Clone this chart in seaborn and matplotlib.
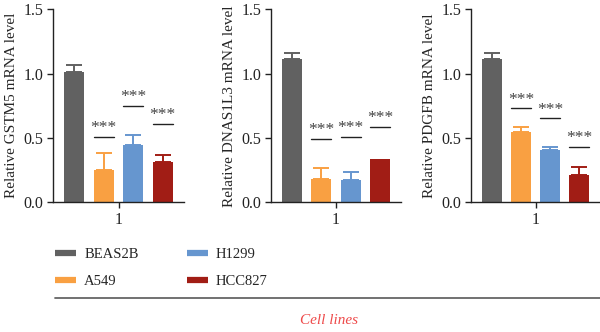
import pandas as pd
import matplotlib
matplotlib.use("Agg")
import matplotlib.pyplot as plt
from matplotlib.lines import Line2D
import seaborn as sns

sns.set_theme(style="ticks")
plt.rcParams["font.family"] = ["Liberation Serif", "DejaVu Serif"]

cells = ["BEAS2B", "A549", "H1299", "HCC827"]
colors = ["#616161", "#F9A042", "#6696CF", "#A11D15"]
genes = ["GSTM5", "DNAS1L3", "PDGFB"]
ylabels = ["Relative GSTM5 mRNA level", "Relative DNAS1L3 mRNA level",
           "Relative PDGFB mRNA level"]

# means and upper error (SD) per gene, in cell order
gstm5_mean = [1.01, 0.25, 0.443, 0.31]
gstm5_err = [0.06, 0.13, 0.077, 0.06]
dnas1l3_mean = [1.117, 0.18, 0.17, 0.34]
dnas1l3_err = [0.041, 0.084, 0.066, 0.0]
pdgfb_mean = [1.117, 0.547, 0.407, 0.215]
pdgfb_err = [0.041, 0.041, 0.026, 0.057]

# height of significance lines (BEAS2B has none)
gstm5_sig = [None, 0.51, 0.75, 0.61]
dnas1l3_sig = [None, 0.495, 0.508, 0.588]
pdgfb_sig = [None, 0.73, 0.653, 0.433]

means = [gstm5_mean, dnas1l3_mean, pdgfb_mean]
errs = [gstm5_err, dnas1l3_err, pdgfb_err]
sigs = [gstm5_sig, dnas1l3_sig, pdgfb_sig]

W, H = 600, 332
fig = plt.figure(figsize=(6, 3.32), dpi=100)
lefts = [53, 271, 471]
widths = [131, 130, 129]
bottom = 1 - 202.3 / H
height = (202.3 - 9.3) / H

for k in range(3):
    ax = fig.add_axes([lefts[k] / W, bottom, widths[k] / W, height])
    df = pd.DataFrame({"grp": ["1"] * 4, "cell": cells, "mean": means[k]})
    sns.barplot(data=df, x="grp", y="mean", hue="cell", hue_order=cells,
                palette=colors, width=0.8, gap=0.32, errorbar=None,
                legend=False, saturation=1, linewidth=0, ax=ax)
    for i, p in enumerate(ax.patches[:4]):
        xc = p.get_x() + p.get_width() / 2
        if errs[k][i] > 0:
            ax.errorbar(xc, means[k][i], yerr=[[0], [errs[k][i]]], color=colors[i],
                        capsize=6, elinewidth=1.4, capthick=1.4, fmt="none")
        if sigs[k][i] is not None:
            ax.plot([p.get_x(), p.get_x() + p.get_width()], [sigs[k][i]] * 2,
                    color="#222222", lw=1)
            ax.text(xc, sigs[k][i] + 0.005, "***", ha="center", va="bottom",
                    fontsize=12.5, color="#444444")
    ax.set_xlim(-0.444, 0.444)
    ax.set_ylim(0, 1.5)
    ax.set_yticks([0, 0.5, 1.0, 1.5])
    ax.set_yticklabels(["0.0", "0.5", "1.0", "1.5"])
    ax.set_xlabel("")
    ax.set_ylabel(ylabels[k], fontsize=11, labelpad=4)
    ax.tick_params(labelsize=11.5, length=4, width=1, colors="#222222", pad=3)
    for s in ["top", "right"]:
        ax.spines[s].set_visible(False)
    for s in ["left", "bottom"]:
        ax.spines[s].set_color("#222222")
        ax.spines[s].set_linewidth(1)

handles = [Line2D([0], [0], color=c, lw=4.5, solid_capstyle="butt") for c in colors]
fig.legend(handles, cells, loc="upper left", bbox_to_anchor=(55 / W, 1 - 248 / H),
           ncol=2, frameon=False, borderaxespad=0, borderpad=0, fontsize=10.5,
           handlelength=1.45, handletextpad=0.55, columnspacing=3.3, labelspacing=0.95)

fig.add_artist(Line2D([55 / W, 1.0], [1 - 298 / H] * 2, color="#666666", lw=1.3))
fig.text(300 / W, 1 - 320 / H, "Cell lines", ha="left", va="center",
         fontsize=11, style="italic", color="#EE4A4A")

fig.savefig("out.png", dpi=100)
